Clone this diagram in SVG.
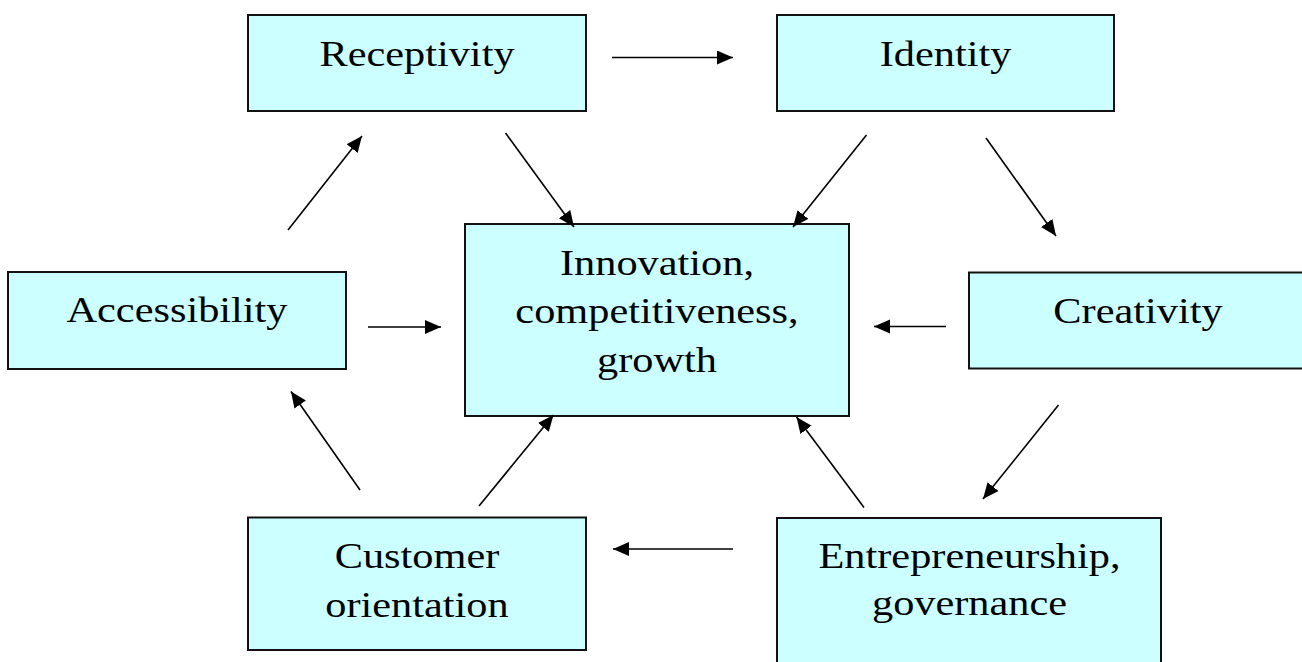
<svg xmlns="http://www.w3.org/2000/svg" width="1302" height="662" viewBox="0 0 1302 662">
<style>
.box{fill:#CCFFFF;stroke:#111;stroke-width:2}
.lbl{font-family:"Liberation Serif","Times New Roman",serif;font-size:35px;fill:#000;text-anchor:middle}
.con{stroke:#000;stroke-width:1.6;fill:none;marker-end:url(#ah)}
</style>
<defs>
<marker id="ah" markerUnits="userSpaceOnUse" markerWidth="17" markerHeight="15" refX="16" refY="7" orient="auto">
<path d="M0,0 L16,7 L0,14 z" fill="#000"/>
</marker>
</defs>
<rect width="1302" height="662" fill="#fff"/>
<g id="receptivity">
<rect class="box" x="248" y="15" width="338" height="96"/>
<text class="lbl" transform="translate(417,66) scale(1.21,1)">Receptivity</text>
</g>
<g id="identity">
<rect class="box" x="777" y="15" width="337" height="96"/>
<text class="lbl" transform="translate(945.5,66) scale(1.21,1)">Identity</text>
</g>
<g id="accessibility">
<rect class="box" x="8" y="272" width="338" height="97"/>
<text class="lbl" transform="translate(177,322) scale(1.21,1)">Accessibility</text>
</g>
<g id="innovation">
<rect class="box" x="465" y="224" width="384" height="192"/>
<text class="lbl" transform="translate(657,275) scale(1.21,1)">Innovation,</text>
<text class="lbl" transform="translate(657,323) scale(1.21,1)">competitiveness,</text>
<text class="lbl" transform="translate(657,371.5) scale(1.21,1)">growth</text>
</g>
<g id="creativity">
<rect class="box" x="969" y="272.5" width="340" height="96"/>
<text class="lbl" transform="translate(1138,322.5) scale(1.21,1)">Creativity</text>
</g>
<g id="customer">
<rect class="box" x="248" y="517.5" width="338" height="132.5"/>
<text class="lbl" transform="translate(417,568) scale(1.21,1)">Customer</text>
<text class="lbl" transform="translate(417,616.5) scale(1.21,1)">orientation</text>
</g>
<g id="entrepreneurship">
<rect class="box" x="777" y="518" width="384" height="160"/>
<text class="lbl" transform="translate(969.5,568) scale(1.21,1)">Entrepreneurship,</text>
<text class="lbl" transform="translate(969.5,615) scale(1.21,1)">governance</text>
</g>
<g id="connectors">
<line class="con" x1="612" y1="57.5" x2="733" y2="57.5"/>
<line class="con" x1="505.5" y1="133" x2="574" y2="227"/>
<line class="con" x1="866.5" y1="135" x2="793" y2="227"/>
<line class="con" x1="986" y1="138" x2="1056" y2="236"/>
<line class="con" x1="946" y1="326.5" x2="874" y2="326.5"/>
<line class="con" x1="368" y1="327" x2="441" y2="327"/>
<line class="con" x1="288" y1="230" x2="362" y2="136"/>
<line class="con" x1="360" y1="490" x2="291" y2="391.5"/>
<line class="con" x1="479" y1="506" x2="553.5" y2="415"/>
<line class="con" x1="733" y1="549" x2="613" y2="549"/>
<line class="con" x1="864" y1="507.5" x2="796.5" y2="417"/>
<line class="con" x1="1058.5" y1="405" x2="983" y2="499"/>
</g>
</svg>
